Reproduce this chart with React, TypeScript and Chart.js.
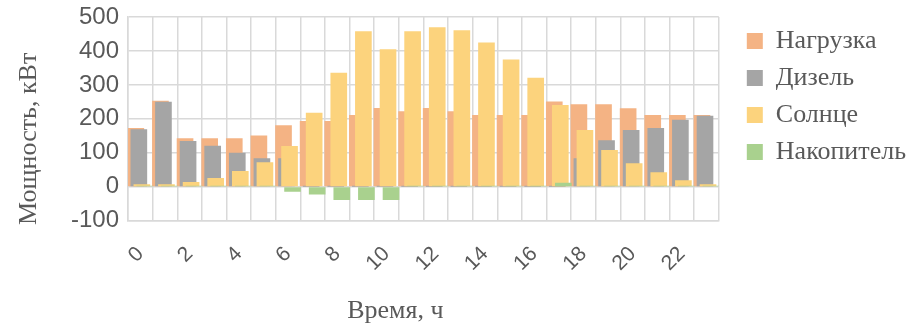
import React, { useEffect, useRef } from "react";
import { Chart, registerables } from "chart.js";

Chart.register(...registerables);

// Hourly power balance, kW
const hours = [0, 1, 2, 3, 4, 5, 6, 7, 8, 9, 10, 11, 12, 13, 14, 15, 16, 17, 18, 19, 20, 21, 22, 23];
const hourLabels = hours.map((h) => String(h));

const loadKw = [172, 252, 142, 142, 142, 150, 180, 193, 193, 210, 231, 221, 231, 221, 210, 210, 210, 250, 242, 242, 230, 210, 210, 210];
const dieselKw = [168, 249, 134, 120, 99, 83, 83, 1, 1, 1, 1, 1, 1, 1, 1, 1, 1, 1, 83, 136, 166, 172, 196, 208];
const solarKw = [6, 6, 13, 25, 45, 71, 119, 217, 335, 457, 404, 457, 469, 460, 424, 374, 320, 240, 166, 107, 68, 42, 18, 6];
const storageKw = [2, 2, 2, 2, 2, 2, -14, -22, -38, -38, -38, 2, 2, 2, 2, 2, 2, 11, 2, 2, 2, 2, 2, 2];

const seriesNames = ["Нагрузка", "Дизель", "Солнце", "Накопитель"];
const yTicks = [-100, 0, 100, 200, 300, 400, 500];
const xTitle = "Время, ч";
const yTitle = "Мощность, кВт";

const COLORS = ["#F4B384", "#A5A5A5", "#FCD37D", "#A9D18E"];
const TEXT = "#595959";
const GRID = "#D9D9D9";
const SANS = "'Liberation Sans', Arial, sans-serif";
const SERIF = "'Liberation Serif', 'Times New Roman', serif";

// overlapping clustered bars: each series is shifted within its hour slot
const SERIES_STEP = 0.1225;
const BAR_PX = 16;
const Y_TITLE_BAND = 62;

// axis titles drawn off-centre, the way the spreadsheet lays them out
const axisTitlesPlugin = {
  id: "axisTitles",
  afterDraw(chart: any) {
    const { ctx, chartArea } = chart;
    ctx.save();
    ctx.font = `26px ${SERIF}`;
    ctx.fillStyle = TEXT;
    ctx.textAlign = "center";
    ctx.textBaseline = "middle";
    ctx.fillText(xTitle, (chartArea.left + chartArea.right) / 2 - 28, chart.height - 17);
    ctx.translate(29.6, (chartArea.top + chartArea.bottom) / 2 + 20);
    ctx.rotate(-Math.PI / 2);
    ctx.fillText(yTitle, 0, 0);
    ctx.restore();
  },
};

export default function App() {
  const ref = useRef<HTMLCanvasElement | null>(null);

  useEffect(() => {
    if (!ref.current) return;
    const all = [loadKw, dieselKw, solarKw, storageKw];
    const datasets = all.map((vals, k) => ({
      label: seriesNames[k],
      data: hours.map((h, i) => ({ x: h + (k - 1.5) * SERIES_STEP, y: vals[i] })),
      backgroundColor: COLORS[k],
      borderWidth: 0,
      grouped: false,
      barThickness: BAR_PX,
      order: 4 - k,
    }));

    const chart = new Chart(ref.current, {
      type: "bar",
      data: { datasets: datasets as any },
      plugins: [axisTitlesPlugin],
      options: {
        animation: false,
        responsive: true,
        maintainAspectRatio: false,
        layout: { padding: { top: 17, bottom: 31, left: 0, right: 0 } },
        plugins: {
          tooltip: { enabled: false },
          legend: {
            position: "right",
            align: "start",
            maxWidth: 220,
            labels: {
              font: { family: SERIF, size: 26 },
              color: TEXT,
              boxWidth: 16,
              boxHeight: 16,
              padding: 11,
              sort: (a: any, b: any) => a.datasetIndex - b.datasetIndex,
            },
          },
        },
        scales: {
          x: {
            type: "linear",
            offset: false,
            min: hours[0] - 0.5,
            max: hours[hours.length - 1] + 0.5,
            grid: { offset: false, color: GRID, lineWidth: 1.5, drawTicks: false },
            border: { color: GRID, width: 1.5 },
            // grid lines sit on the hour boundaries, labels are moved to slot centres
            afterBuildTicks: (axis: any) => {
              axis.ticks = [...hours.map((h) => ({ value: h - 0.5 })), { value: hours[hours.length - 1] + 0.5 }];
            },
            ticks: {
              autoSkip: false,
              minRotation: 45,
              maxRotation: 45,
              padding: 21,
              labelOffset: 12.3,
              color: TEXT,
              font: { family: SANS, size: 21 },
              callback: (_v: any, i: number) => (i < hourLabels.length && i % 2 === 0 ? hourLabels[i] : ""),
            },
          },
          y: {
            type: "linear",
            position: "left",
            min: yTicks[0],
            max: yTicks[yTicks.length - 1],
            grid: { color: GRID, lineWidth: 1.5, drawTicks: false },
            border: { color: GRID, width: 1.5 },
            afterBuildTicks: (axis: any) => {
              axis.ticks = yTicks.map((v) => ({ value: v }));
            },
            afterFit: (axis: any) => {
              axis.width += Y_TITLE_BAND;
            },
            ticks: {
              autoSkip: false,
              padding: 9,
              color: TEXT,
              font: { family: SANS, size: 24, lineHeight: 0.65 },
            },
          },
          yr: {
            type: "linear",
            position: "right",
            display: true,
            grid: { display: false, drawTicks: false },
            border: { display: false },
            ticks: { display: false },
            afterFit: (axis: any) => {
              axis.width = 17;
            },
          },
        },
      } as any,
    });
    return () => chart.destroy();
  }, []);

  return (
    <div style={{ position: "absolute", left: 0, top: 0, width: 916, height: 328, background: "#fff" }}>
      <canvas ref={ref} />
    </div>
  );
}
